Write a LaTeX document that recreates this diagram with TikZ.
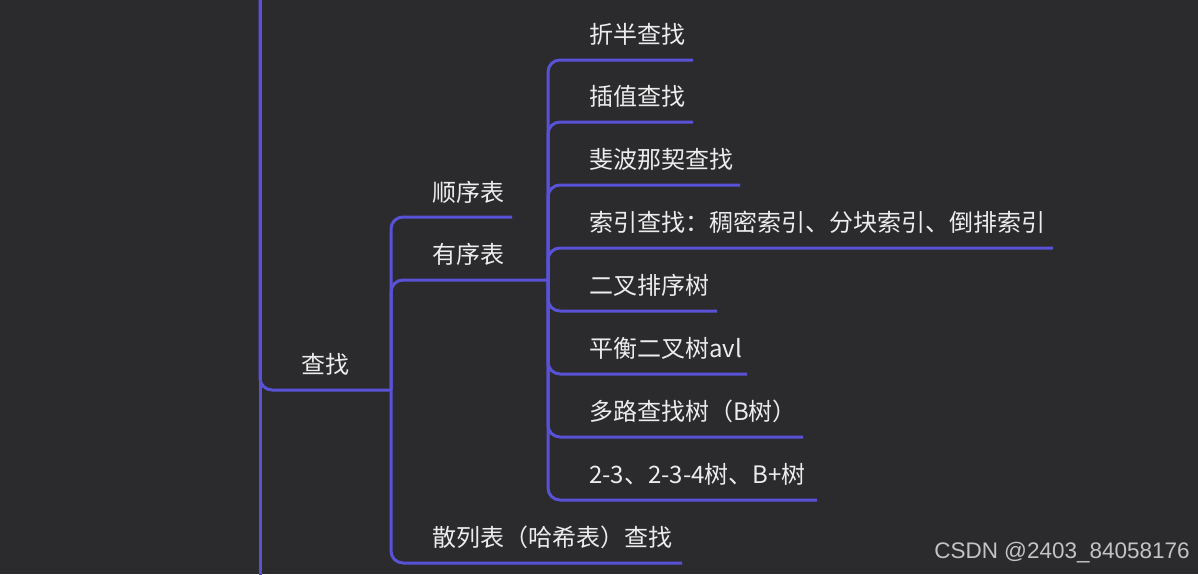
\documentclass[tikz,border=0pt]{standalone}
\usepackage{fontspec}
\setmainfont{Noto Sans CJK SC}
\newfontfamily\wmfont{Liberation Sans}
\definecolor{bgc}{RGB}{43,43,46}
\definecolor{linec}{RGB}{90,82,214}
\definecolor{txtc}{RGB}{236,236,236}
\definecolor{wmc}{RGB}{195,195,195}
\begin{document}
\begin{tikzpicture}[x=1pt,y=-1pt,
  branch/.style={draw=linec,line width=3pt,rounded corners=12pt},
  topic/.style={anchor=west,inner sep=0pt,text=txtc,font=\fontsize{24}{28}\selectfont},
  wmark/.style={inner sep=0pt,text=wmc,font=\wmfont\fontsize{22.5}{26}\selectfont}]
\useasboundingbox (0,0) rectangle (1198,574);
\fill[bgc] (0,0) rectangle (1198,574);
% coordinates
\coordinate (root) at (260,-30);
\coordinate (rootend) at (260,604);
\coordinate (j1) at (391,390);
\coordinate (e11) at (512,217);
\coordinate (j2) at (548,280);
\coordinate (e13) at (682,563);
\coordinate (e21) at (693,60);
\coordinate (e22) at (693,122);
\coordinate (e23) at (740,185);
\coordinate (e24) at (1053,248);
\coordinate (e25) at (717,311);
\coordinate (e26) at (747,374);
\coordinate (e27) at (803,437);
\coordinate (e28) at (817,500);
% texts
\node[topic] (n0) at (301,364) {查找};
\node[topic] (n11) at (432,192) {顺序表};
\node[topic] (n12) at (432,254) {有序表};
\node[topic] (n13) at (432,537) {散列表（哈希表）查找};
\node[topic] (n21) at (589,34) {折半查找};
\node[topic] (n22) at (589,96) {插值查找};
\node[topic] (n23) at (589,159) {斐波那契查找};
\node[topic] (n24) at (589,222) {索引查找：稠密索引、分块索引、倒排索引};
\node[topic] (n25) at (589,285) {二叉排序树};
\node[topic] (n26) at (589,348) {平衡二叉树avl};
\node[topic] (n27) at (589,411) {多路查找树（B树）};
\node[topic] (n28) at (589,474) {2-3、2-3-4树、B+树};
\node[wmark] (wm) at (1062,553) {CSDN @2403\_84058176};
% connectors
\draw[branch] (root) -- (rootend);
\draw[branch] (root) |- (j1);
\draw[branch] (j1) |- (e11);
\draw[branch] (j1) |- (j2);
\draw[branch] (j1) |- (e13);
\foreach \e in {e21,e22,e23,e24,e25,e26,e27,e28}
  \draw[branch] (j2) |- (\e);
\end{tikzpicture}
\end{document}
